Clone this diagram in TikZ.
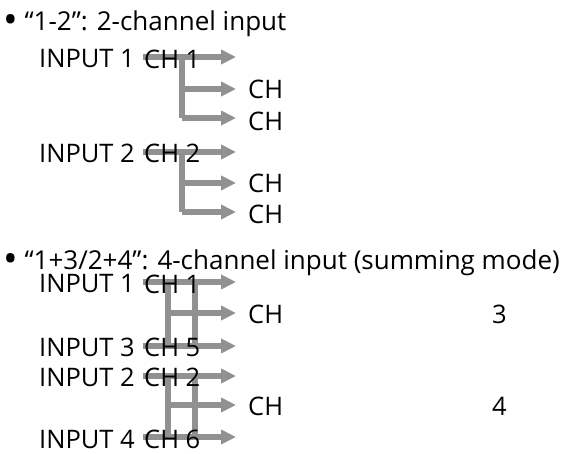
\documentclass[tikz,border=0pt]{standalone}
\usepackage{fontspec}
\setmainfont{Open Sans}
\usetikzlibrary{arrows.meta}
\newcommand{\bigdot}{\raisebox{-0.12em}{\scalebox{1.5}{\textbullet}}}
\begin{document}
\begin{tikzpicture}[x=1pt,y=-1pt]
      \tikzset{txt/.style={anchor=west, inner sep=0pt, font=\fontsize{25.5}{28}\selectfont},
               headtxt/.style={txt, font=\fontsize{26}{28}\selectfont},
               flow/.style={line width=6.5pt, draw={rgb,255:red,145;green,145;blue,145}, -{Triangle[length=15pt,width=14pt]}},
               bar/.style={line width=6.5pt, draw={rgb,255:red,145;green,145;blue,145}}}
      \useasboundingbox (0,0) rectangle (562,454);
%% Headings
	\node[headtxt] (head1) at (3,24) {\bigdot\ “1-2”: 2-channel input};
	\node[headtxt] (head2) at (3,263) {\bigdot\ “1+3/2+4”: 4-channel input (summing mode)};
%% Junctions
	%2-channel
	\coordinate (a1) at (143,57);  \coordinate (t1) at (236,57);
	\coordinate (j1) at (182,57);  \coordinate (k1) at (182,118);
	\coordinate (a2) at (143,152); \coordinate (t2) at (236,152);
	\coordinate (j2) at (182,152); \coordinate (k2) at (182,212);
	%4-channel
	\coordinate (b1) at (143,282); \coordinate (u1) at (236,282);
	\coordinate (b3) at (143,346); \coordinate (u3) at (236,346);
	\coordinate (b2) at (143,376); \coordinate (u2) at (236,376);
	\coordinate (b4) at (143,437); \coordinate (u4) at (236,437);
	\coordinate (p1) at (168,282); \coordinate (q1) at (168,346);
	\coordinate (p2) at (195,282); \coordinate (q2) at (195,346);
	\coordinate (p3) at (168,376); \coordinate (q3) at (168,437);
	\coordinate (p4) at (195,376); \coordinate (q4) at (195,437);
	\coordinate (m1) at (168,313); \coordinate (m2) at (168,405);
%% Outputs
	\node[txt] (o1) at (248,89) {CH};
	\node[txt] (o2) at (248,121) {CH};
	\node[txt] (o3) at (248,183) {CH};
	\node[txt] (o4) at (248,214) {CH};
	\node[txt] (s3) at (248,314) {CH};
	\node[txt] (s4) at (248,406) {CH};
	\node[txt] (n3) at (492,314) {3};
	\node[txt] (n4) at (492,406) {4};
%Arrows
	%2-channel
		\path [flow] (a1) -- (t1);
		\path [bar] (j1) -- (k1);
		\path [flow] (j1 |- o1) -- (t1 |- o1);
		\path [flow] (k1) -- (t1 |- k1);
		\path [flow] (a2) -- (t2);
		\path [bar] (j2) -- (k2);
		\path [flow] (j2 |- o3) -- (t2 |- o3);
		\path [flow] (k2) -- (t2 |- k2);
	%4-channel
		\path [flow] (b1) -- (u1);
		\path [flow] (b3) -- (u3);
		\path [flow] (b2) -- (u2);
		\path [flow] (b4) -- (u4);
		\path [bar] (p1) -- (q1);
		\path [bar] (p2) -- (q2);
		\path [bar] (p3) -- (q3);
		\path [bar] (p4) -- (q4);
		\path [flow] (m1) -- (u1 |- m1);
		\path [flow] (m2) -- (u2 |- m2);
%% Inputs
	\node[txt] (in1) at (39,59) {INPUT 1};
	\node[txt] (ch1) at (144,59) {CH 1};
	\node[txt] (in2) at (39,153) {INPUT 2};
	\node[txt] (ch2) at (144,153) {CH 2};
	\node[txt] (in5) at (39,284) {INPUT 1};
	\node[txt] (ch5) at (144,284) {CH 1};
	\node[txt] (in6) at (39,347) {INPUT 3};
	\node[txt] (ch6) at (144,347) {CH 5};
	\node[txt] (in7) at (39,377) {INPUT 2};
	\node[txt] (ch7) at (144,377) {CH 2};
	\node[txt] (in8) at (39,439) {INPUT 4};
	\node[txt] (ch8) at (144,439) {CH 6};
\end{tikzpicture}
\end{document}
